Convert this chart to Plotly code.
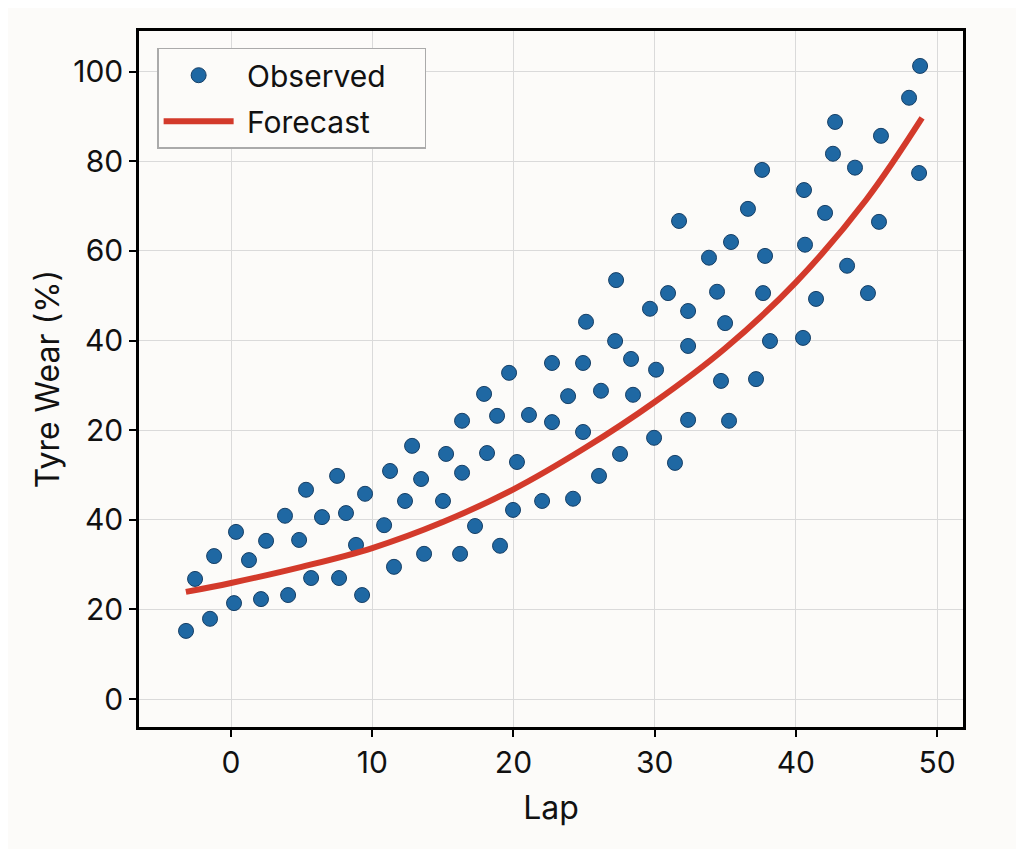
import plotly.graph_objects as go

# observed tyre wear per lap (y in axis units)
obs_lap = [
    -3.19, -2.55, -1.49, -1.20, 0.21, 0.35, 1.27, 2.12, 2.48, 3.82,
    4.04, 4.82, 5.31, 5.67, 6.44, 7.51, 7.65, 8.14, 8.85, 9.28,
    9.49, 10.84, 11.26, 11.54, 12.32, 12.82,
    13.46, 13.67, 15.01, 15.23, 16.22, 16.36, 16.36, 17.28, 17.92, 18.13,
    18.84, 19.05, 19.69, 19.97, 20.25, 21.10, 22.03, 22.73, 22.73, 23.87,
    24.22, 24.93, 24.93, 26.06, 26.20, 27.20, 27.55, 28.33, 28.47, 25.14,
    27.27, 31.73,
    29.67, 30.10, 29.96, 30.95, 31.44, 32.37, 32.37, 32.37, 33.85, 34.42,
    34.70, 34.99, 35.27, 35.41, 36.61, 37.18, 37.61, 37.82, 37.68, 38.17,
    40.51, 40.58, 40.65, 41.43, 42.07, 42.63, 42.78, 43.63, 44.19, 45.11,
    45.89, 46.03, 48.02, 48.73, 48.80,
]
obs_wear = [
    15.2, 26.8, 17.9, 31.9, 21.4, 37.3, 31.0, 22.3, 35.3, 40.9,
    23.2, 35.5, 46.7, 27.0, 40.6, 49.8, 27.0, 41.5, 34.4, 23.2,
    45.8, 38.8, 50.9, 29.5, 44.2, 56.5,
    49.1, 32.4, 44.2, 54.7, 32.4, 50.5, 62.1, 38.6, 68.1, 54.9,
    63.2, 34.2, 72.8, 42.2, 52.9, 63.4, 44.2, 75.0, 61.8, 67.6,
    44.7, 75.0, 59.6, 49.8, 68.8, 79.9, 54.7, 75.9, 67.9, 84.2,
    93.5, 106.7,
    87.1, 73.5, 58.3, 90.6, 52.7, 86.6, 78.8, 62.3, 98.5, 90.9,
    71.0, 83.9, 62.1, 102.0, 109.4, 71.4, 118.1, 98.9, 90.6, 79.9,
    80.6, 113.6, 101.4, 89.3, 108.5, 121.7, 128.8, 96.7, 118.6, 90.6,
    106.5, 125.7, 134.2, 117.4, 141.3,
]

# forecast curve
fc_lap = [-3.2, 0, 5, 10, 15, 20, 25, 30, 35, 40, 45, 48.94]
fc_wear = [23.9, 25.9, 29.5, 33.7, 39.5, 46.8, 55.9, 66.3, 78.3, 93.0, 111.5, 129.7]

# tick labels as printed on the reference
ytick_vals = [0, 20, 40, 60, 80, 100, 120, 140]
ytick_text = ["0", "20", "40", "20", "40", "60", "80", "100"]
xtick_vals = [0, 10, 20, 30, 40, 50]

bg = "#fcfbf9"
font = "Inter, Noto Sans, sans-serif"
ink = "#111111"
pad = "\u00a0"

fig = go.Figure()

fig.add_trace(go.Scatter(
    x=obs_lap, y=obs_wear, mode="markers", name=pad + "Observed" + pad * 4,
    legendgroup="obs",
    marker=dict(size=15, color="#1f68a3", line=dict(color="#163f66", width=1)),
))

fig.add_trace(go.Scatter(
    x=fc_lap, y=fc_wear, mode="lines", name=pad + "Forecast", legendgroup="fc",
    line=dict(color="#d33a2b", width=6, shape="spline", smoothing=1.0),
))

axis_common = dict(
    showline=True, linecolor="black", linewidth=2.5, mirror=True,
    ticks="outside", ticklen=7, tickwidth=2, tickcolor="black",
    showgrid=True, gridcolor="#dadada", gridwidth=1, zeroline=False,
    tickfont=dict(size=30, color=ink, family=font),
)

fig.update_xaxes(
    range=[-6.52, 51.84], tickvals=xtick_vals,
    title=dict(text="Lap", font=dict(size=32, color=ink, family=font), standoff=18),
    **axis_common,
)
fig.update_yaxes(
    range=[-6.25, 149.1], tickvals=ytick_vals, ticktext=ytick_text,
    title=dict(text="Tyre Wear (%)", font=dict(size=32, color=ink, family=font), standoff=4),
    **axis_common,
)

# page body adds an 8px margin, so the figure is sized 16px smaller
fig.update_layout(
    width=1008, height=841,
    margin=dict(l=131, r=53, t=23, b=122),
    paper_bgcolor=bg, plot_bgcolor=bg,
    font=dict(family=font, color=ink),
    legend=dict(
        x=0.022, y=0.976, xanchor="left", yanchor="top",
        bgcolor=bg, bordercolor="#aaaaaa", borderwidth=1.5,
        font=dict(size=30, family=font, color=ink),
        itemwidth=70, tracegroupgap=4,
    ),
    showlegend=True,
)

fig.write_html("out.html")
